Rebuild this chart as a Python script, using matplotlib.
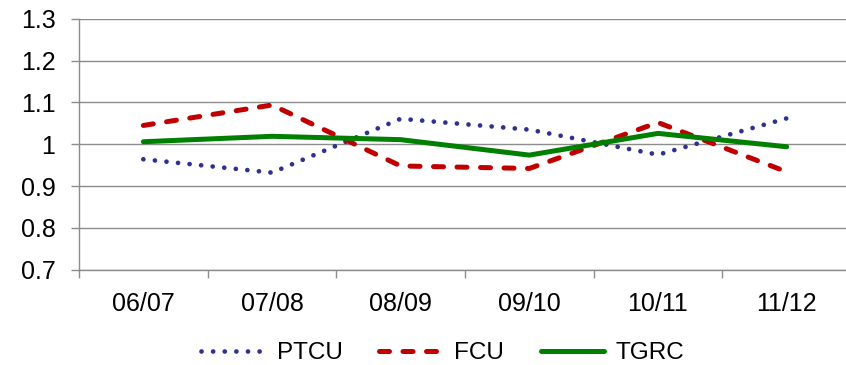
import matplotlib.pyplot as plt
import numpy as np

plt.rcParams['font.family'] = ['Liberation Sans', 'DejaVu Sans']

seasons = ['06/07', '07/08', '08/09', '09/10', '10/11', '11/12']
ptcu = [0.964, 0.932, 1.061, 1.035, 0.975, 1.062]
fcu = [1.045, 1.094, 0.948, 0.942, 1.052, 0.934]
tgrc = [1.006, 1.019, 1.011, 0.974, 1.026, 0.994]

fig = plt.figure(figsize=(8.46, 3.65), dpi=100)
ax = fig.add_axes([0.0934, 0.2616, 0.9125, 0.6864])

x = np.arange(len(seasons))
gray = '#8c8c8c'

ax.plot(x, ptcu, color='#2e3192', lw=3.4, linestyle=(0, (0.01, 2.45)),
        dash_capstyle='round', label='PTCU')
ax.plot(x, fcu, color='#c00000', lw=3.6, linestyle=(0, (2.0, 2.7)),
        dash_capstyle='round', label='FCU')
ax.plot(x, tgrc, color='#008000', lw=3.6, solid_capstyle='round', label='TGRC')

ax.set_xlim(-0.5, 5.5)
ax.set_ylim(0.7, 1.3)
ax.set_yticks(np.arange(0.7, 1.31, 0.1))
ax.set_yticklabels(['0.7', '0.8', '0.9', '1', '1.1', '1.2', '1.3'])
ax.set_xticks(x)
ax.set_xticklabels(seasons)
ax.set_xticks(np.arange(-0.5, 5.6, 1), minor=True)

ax.grid(axis='y', color=gray, lw=1.0)
ax.set_axisbelow(True)
for s in ['top', 'right']:
    ax.spines[s].set_visible(False)
for s in ['left', 'bottom']:
    ax.spines[s].set_color(gray)
    ax.spines[s].set_linewidth(1.0)

ax.tick_params(axis='y', length=6, color=gray, width=1.0, labelsize=18, pad=11)
ax.tick_params(axis='x', which='major', length=0, labelsize=18, pad=16)
ax.tick_params(axis='x', which='minor', length=6, color=gray, width=1.0)

fig.legend(loc='center', bbox_to_anchor=(443 / 846, 1 - 353 / 365), ncol=3,
           frameon=False, fontsize=17.5, handlelength=2.6, handletextpad=0.5,
           columnspacing=1.5)

fig.savefig('out.png', dpi=100)
